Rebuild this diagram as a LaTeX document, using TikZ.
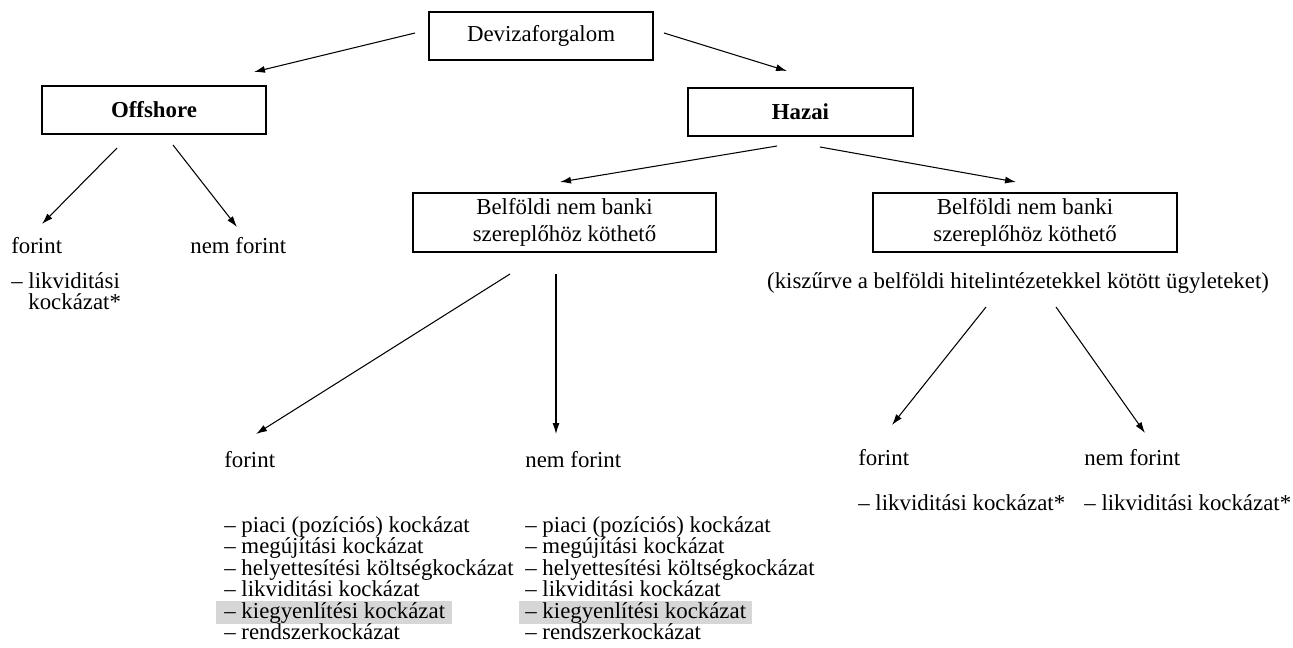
\documentclass[tikz,border=0pt]{standalone}
\usepackage{fontspec}
\setmainfont{Liberation Serif}
\usepackage{tikz}
\usetikzlibrary{arrows.meta}
\definecolor{bandgray}{gray}{0.84}
\tikzstyle{box}=[draw, line width=0.8pt, inner sep=0pt, align=center, font=\fontsize{13}{15}\selectfont]
\tikzstyle{txt}=[anchor=base west, inner sep=0pt, font=\fontsize{13}{15}\selectfont]
\tikzstyle{arrow}=[draw=black, line width=0.6pt, -{Latex[length=2.2mm, width=1.4mm]}]

\begin{document}
\begin{tikzpicture}[x=0.02cm, y=-0.02cm]
		   \useasboundingbox (0,0) rectangle (1293,648);
		   \begin{scope}
			   \node (deviza) at (541, 36)[box, minimum width=4.48cm, minimum height=0.96cm] {Devizaforgalom};
			   \node (offshore) at (154, 110)[box, minimum width=4.48cm, minimum height=0.96cm] {\textbf{Offshore}};
			   \node (hazai) at (800.5, 112)[box, minimum width=4.5cm, minimum height=0.96cm] {\textbf{Hazai}};
			   \node (belf1) at (564.5, 222.5)[box, minimum width=6.06cm, minimum height=1.18cm] {Belföldi nem banki\\szereplőhöz köthető};
			   \node (belf2) at (1025, 222.5)[box, minimum width=6.08cm, minimum height=1.18cm] {Belföldi nem banki\\szereplőhöz köthető};
			   \node (szures) at (1018, 288)[txt, anchor=base] {(kiszűrve a belföldi hitelintézetekkel kötött ügyleteket)};
		   \end{scope}
		   % offshore ag
		   \begin{scope}
			   \node (off-huf) at (11, 254)[txt] {forint};
			   \node (off-fx) at (190, 254)[txt] {nem forint};
			   \node (off-liq) at (11, 288)[txt] {– likviditási};
			   \node (off-liq2) at (28, 309.5)[txt] {kockázat*};
		   \end{scope}
		   % hazai, bal oldal
		   \begin{scope}
			   \fill[bandgray] (216, 601) rectangle (452, 624);
			   \fill[bandgray] (519, 601) rectangle (752, 624);
			   \node (huf) at (224, 467)[txt] {forint};
			   \node (huf-1) at (224, 532)[txt] {– piaci (pozíciós) kockázat};
			   \node (huf-2) at (224, 553.5)[txt] {– megújítási kockázat};
			   \node (huf-3) at (224, 575)[txt] {– helyettesítési költségkockázat};
			   \node (huf-4) at (224, 596.5)[txt] {– likviditási kockázat};
			   \node (huf-5) at (224, 618)[txt] {– kiegyenlítési kockázat};
			   \node (huf-6) at (224, 639.5)[txt] {– rendszerkockázat};
			   \node (fx) at (525, 467)[txt] {nem forint};
			   \node (fx-1) at (525, 532)[txt] {– piaci (pozíciós) kockázat};
			   \node (fx-2) at (525, 553.5)[txt] {– megújítási kockázat};
			   \node (fx-3) at (525, 575)[txt] {– helyettesítési költségkockázat};
			   \node (fx-4) at (525, 596.5)[txt] {– likviditási kockázat};
			   \node (fx-5) at (525, 618)[txt] {– kiegyenlítési kockázat};
			   \node (fx-6) at (525, 639.5)[txt] {– rendszerkockázat};
		   \end{scope}
		   % hazai, jobb oldal
		   \begin{scope}
			   \node (bhuf) at (858, 465)[txt] {forint};
			   \node (bhuf-1) at (858, 510)[txt] {– likviditási kockázat*};
			   \node (bfx) at (1084, 465)[txt] {nem forint};
			   \node (bfx-1) at (1084, 510)[txt] {– likviditási kockázat*};
		   \end{scope}
		   % nyilak vegpontjai
		   \begin{scope}
			   \coordinate (deviza-l) at (415, 33);
			   \coordinate (deviza-r) at (664, 33);
			   \coordinate (offshore-in) at (254, 72);
			   \coordinate (hazai-in) at (787, 71);
			   \coordinate (offshore-l) at (117, 148);
			   \coordinate (offshore-r) at (173, 145);
			   \coordinate (off-huf-in) at (42, 224);
			   \coordinate (off-fx-in) at (237, 227);
			   \coordinate (hazai-l) at (777, 146);
			   \coordinate (hazai-r) at (820, 147);
			   \coordinate (belf1-in) at (560, 182);
			   \coordinate (belf2-in) at (1016, 182);
			   \coordinate (belf1-l) at (510, 274);
			   \coordinate (belf1-r) at (556, 274);
			   \coordinate (huf-in) at (256, 434);
			   \coordinate (fx-in) at (556, 434);
			   \coordinate (szures-l) at (986, 307);
			   \coordinate (szures-r) at (1056, 307);
			   \coordinate (bhuf-in) at (892, 425);
			   \coordinate (bfx-in) at (1145, 433);
		   \end{scope}
		   \begin{scope}
			   \draw [arrow] (deviza-l) -- (offshore-in);
			   \draw [arrow] (deviza-r) -- (hazai-in);
			   \draw [arrow] (offshore-l) -- (off-huf-in);
			   \draw [arrow] (offshore-r) -- (off-fx-in);
			   \draw [arrow] (hazai-l) -- (belf1-in);
			   \draw [arrow] (hazai-r) -- (belf2-in);
			   \draw [arrow] (belf1-l) -- (huf-in);
			   \draw [arrow] (belf1-r) -- (fx-in);
			   \draw [arrow] (szures-l) -- (bhuf-in);
			   \draw [arrow] (szures-r) -- (bfx-in);
		   \end{scope}
	   \end{tikzpicture}
\end{document}
